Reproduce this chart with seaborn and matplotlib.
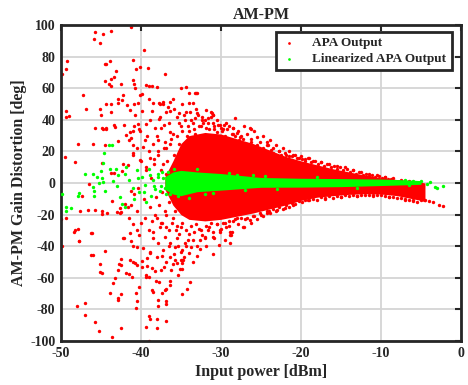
import numpy as np
import pandas as pd
import matplotlib
matplotlib.use("Agg")
import matplotlib.pyplot as plt
import seaborn as sns

# ---------------- data ----------------
# Sparse APA output points (input power dBm, AM-PM deg)
apa_x = [-45.75, -44.7, -43.7, -45.9, -45.1, -41.2, -39.6, -49.2, -49.3, -49.9, -44.5, -44.3, -43.9, -41.0,
         -43.1, -40.6, -40.1, -39.1, -37.0, -43.3, -43.75, -44.5, -44.0, -43.7, -42.5, -41.0, -40.9, -40.7,
         -39.4, -39.0, -38.6, -38.0, -35.0, -34.4, -47.2, -39.9, -40.1, -42.2, -42.8, -42.4, -39.0, -42.8,
         -44.3, -43.7, -41.7, -40.9, -46.9, -45.1, -49.3, -49.4, -49.0, -45.0, -43.7, -41.3, -40.7, -40.3,
         -39.9, -38.6, -37.6, -37.2, -43.3, -44.7, -44.4, -41.3, -40.9, -40.3, -39.3, -40.1, -37.7, -36.8,
         -36.3, -33.25, -33.0, -31.8, -31.1, -31.0, -28.5, -26.4, -34.0, -33.1, -38.5, -37.7, -37.2, -36.4,
         -34.0, -33.5, -31.0, -31.2, -29.6, -28.5, -26.3, -28.0, -27.6, -24.3, -24.1, -32.4,
         # lower-left sparse
         -48.3, -46.1, -47.7, -46.0, -44.5, -45.1, -45.1, -44.8, -42.5, -42.7, -42.5, -42.8, -41.3, -41.0,
         -40.75, -40.5, -39.9, -41.8, -41.5, -41.1, -43.2, -43.5, -43.9, -42.5, -42.8, -42.9, -48.0, -47.0,
         -47.0, -45.7, -45.2, -43.6, -42.5, -40.2, -40.6, -40.5, -40.6, -39.3, -39.0, -39.0, -38.8, -38.6,
         -38.5, -37.9, -37.9, -37.3, -37.0, -36.8, -36.9, -36.8, -38.0, -38.0, -36.9, -39.3, -39.0, -39.4,
         -38.1, -37.7, -36.4, -36.3, -39.2, -38.6, -38.25, -37.5, -37.1, -36.0, -35.75, -35.1, -34.9, -34.9,
         -39.9, -39.2, -38.9, -36.5, -35.4, -34.3, -41.0, -42.1, -35.0, -35.0, -34.8, -33.8, -34.2, -34.8,
         # left middle
         -47.8, -46.0, -44.5, -42.8, -49.5, -48.25, -44.8, -46.5, -47.3, -43.6, -46.6, -45.7, -44.9, -47.6,
         -44.8, -44.2, -49.3, -46.2, -48.2, -47.9, -42.6, -42.5, -42.0, -41.6, -41.2, -42.2, -41.6, -42.3,
         -43.7, -43.3, -41.25, -40.8, -41.0, -40.2, -50.0, -49.9, -47.75, -46.2, -41.4, -42.2, -40.5, -41.0,
         -40.5, -43.0, -42.6, -45.75, -44.9, -44.3, -43.25, -42.1, -41.8, -41.2, -41.0, -41.0, -40.1, -39.7,
         -39.3,
         # speckle around the dense core
         -38.0, -37.5, -37.0, -36.5, -36.0, -35.5, -35.0, -34.5, -34.0, -33.5, -33.0, -32.5, -32.0, -31.5,
         -31.0, -30.5, -30.0, -29.5, -29.0, -28.5, -38.5, -37.8, -36.8, -36.2, -35.2, -34.2, -33.2, -32.2,
         -31.2, -30.2, -39.0, -38.3, -37.2, -39.5, -40.5, -41.5, -41.0, -40.0, -39.3, -38.7, -40.3, -39.6,
         -38.8, -38.2, -37.5, -37.0, -36.5, -36.0, -35.5, -35.0, -34.5, -34.0, -33.5, -33.0, -32.5, -32.0,
         -31.5, -31.0, -30.5, -30.0, -29.5, -29.0, -28.5, -28.0, -27.0, -26.0, -25.0, -24.0, -23.0, -22.0,
         -21.0, -27.5, -26.5, -25.5, -24.5, -23.5, -22.5, -21.5, -20.5, -19.5, -18.5, -17.5, -16.5, -15.5,
         -14.5, -13.5, -12.5, -11.5, -10.5, -9.5, -8.5, -7.5, -6.5, -19.0, -17.0, -15.0, -13.0, -11.0,
         -9.0, -7.0, -6.0, -5.5,
         -38.0, -37.4, -36.8, -38.5, -37.0, -36.4, -35.75, -37.2, -34.9, -34.7, -38.0, -36.4, -35.5, -33.7,
         -32.6, -32.0, -31.0, -30.1, -28.9, -27.2, -26.4, -24.3, -28.8, -28.7,
         -41.5, -40.5, -40.0, -39.5, -39.0, -38.5, -40.2, -41.2, -39.7, -38.9, -37.8, -37.4, -36.9, -36.2,
         -35.8, -35.3, -34.6, -34.0, -33.5, -33.0, -32.6, -31.8, -31.0, -30.2, -29.5, -28.8,
         -35.8, -35.2, -34.6, -33.8, -33.2, -32.8, -32.2, -31.6, -30.8, -30.3, -29.8, -29.2, -28.2, -27.8,
         -27.2, -26.8, -26.2, -25.8, -25.2, -24.8, -23.8, -22.8, -22.0, -21.0, -20.0, -19.0, -37.6, -36.6,
         -37.1, -38.2, -38.8, -39.2, -34.9, -36.0,
         # upper edge of the dense core
         -35.5, -35.2, -34.8, -34.4, -34.1, -33.7, -33.4, -33.1, -32.7, -32.3, -31.9, -31.6, -31.2, -30.9,
         -30.5, -30.1, -29.7, -29.4, -29.0, -28.6, -28.3, -27.9, -27.5, -27.1, -26.7, -26.3, -25.9, -25.5,
         -25.1, -24.7, -24.3, -23.9, -23.5, -23.1, -22.7, -22.3, -21.9, -21.5, -21.1, -20.7, -20.3, -19.9,
         -19.5, -19.1, -18.7, -18.3, -17.9, -17.5, -17.1, -16.7, -16.3, -15.9, -15.5, -15.1, -14.7, -14.3,
         -13.9, -13.5, -13.1, -12.7, -12.3, -11.9, -11.5, -11.1, -10.7, -10.3, -9.9, -9.5, -9.1, -8.7,
         # lower edge of the dense core
         -35.5, -35.2, -34.8, -34.4, -34.1, -33.7, -33.4, -33.1, -32.7, -32.3, -31.9, -31.6, -31.2, -30.9,
         -30.5, -30.1, -29.7, -29.4, -29.0, -28.6, -28.3, -27.9, -27.5, -27.1, -26.7, -26.3, -25.9, -25.5,
         -25.1, -24.7, -24.3, -23.9, -23.5, -23.1, -22.7, -22.3, -21.9, -21.5, -21.1, -20.7, -20.3, -19.9,
         -19.5, -19.1, -18.5, -18.0, -17.5, -17.0, -16.5, -16.0, -15.5, -15.0, -14.5, -14.0, -13.5, -13.0,
         -12.5, -12.0, -11.5, -11.0, -10.5, -10.0, -9.5, -9.0, -8.5, -8.0, -7.5, -7.0, -6.5, -6.0,
         # fill-in at the left end of the core
         -38.4, -38.1, -37.9, -37.7, -37.5, -37.3, -37.1, -36.9, -36.7, -36.5, -36.3, -36.1, -35.9, -35.7,
         -35.5, -35.3, -37.8, -36.4, -35.6, -37.6, -38.6, -38.9, -36.8, -36.2,
         # right tail
         -4.0, -3.5, -2.8, -2.3, -4.5, -5.0]
apa_y = [95.8, 94.1, 96.0, 91.3, 88.8, 98.5, 84.0, 77.2, 72.4, 68.8, 75.5, 75.5, 77.2, 78.0,
         71.0, 72.0, 73.2, 72.6, 69.2, 67.0, 65.6, 64.8, 62.9, 61.2, 62.7, 65.0, 62.7, 60.1,
         61.8, 61.6, 61.4, 60.8, 59.9, 60.6, 55.7, 56.5, 55.9, 55.5, 53.2, 52.5, 53.4, 50.4,
         50.0, 50.0, 49.2, 50.0, 46.6, 46.6, 45.6, 41.8, 42.6, 42.8, 44.7, 46.0, 43.0, 50.6,
         45.4, 45.6, 50.2, 49.8, 36.7, 34.0, 34.0, 32.5, 35.9, 37.3, 37.3, 32.9, 40.3, 44.7,
         45.8, 57.2, 57.2, 46.2, 44.0, 43.0, 34.6, 34.6, 56.8, 57.0, 50.8, 50.4, 51.5, 51.5,
         50.8, 50.4, 43.0, 42.0, 36.5, 34.8, 34.0, 31.4, 29.3, 26.1, 24.1, 40.0,
         -30.8, -31.4, -36.7, -45.8, -42.8, -51.3, -56.3, -57.0, -48.3, -51.0, -51.7, -55.0, -49.0, -50.0,
         -50.4, -52.0, -53.4, -56.8, -57.8, -59.3, -60.3, -63.1, -69.8, -70.4, -73.0, -74.0, -77.8, -76.0,
         -83.3, -88.2, -93.7, -97.3, -91.6, -66.0, -69.4, -74.7, -79.1, -91.3, -99.8, -84.0, -86.0, -67.5,
         -68.8, -74.0, -78.0, -69.8, -67.5, -66.9, -74.7, -76.6, -85.9, -91.8, -87.6, -58.0, -59.3, -59.3,
         -61.8, -62.8, -61.8, -64.4, -52.5, -53.6, -55.5, -54.9, -53.2, -51.3, -48.7, -54.6, -48.7, -50.4,
         -49.4, -47.5, -43.9, -39.7, -39.7, -39.7, -39.9, -35.0, -43.5, -48.7, -54.4, -62.7, -66.9, -70.5,
         24.7, 24.7, 24.3, 26.8, 16.3, 13.5, 12.4, -0.4, -8.4, -11.2, -17.1, -17.1, -17.7, -17.5,
         -19.8, -19.0, -22.3, -31.4, -29.7, -28.9, -19.2, -18.2, -13.1, -15.4, -14.1, 12.0, 11.6, 7.6,
         6.5, 6.5, -4.9, -7.2, 33.0, 34.0, -23.0, -40.0, -36.5, -45.6, -31.8, -35.0, -40.3, -26.0,
         -30.0, -18.2, -16.0, 34.6, 34.6, 34.6, 35.6, 36.7, 30.4, 28.3, 24.0, 18.8, 14.6, 23.0,
         10.3,
         30.0, 35.0, 26.0, 38.0, 31.0, 42.0, 36.0, 40.0, 33.0, 38.0, 44.0, 36.0, 40.0, 34.0,
         38.0, 32.0, 35.0, 30.0, 28.0, 31.0, 25.0, 20.0, 22.0, 28.0, 25.0, 30.0, 31.0, 29.0,
         30.0, 28.0, 20.0, 15.0, 12.0, 27.0, 22.0, 27.0, 18.0, 14.0, 8.0, 3.0, -3.0, -10.0,
         -15.0, -20.0, -25.0, -18.0, -30.0, -22.0, -35.0, -28.0, -38.0, -32.0, -36.0, -40.0, -30.0, -34.0,
         -28.0, -31.0, -26.0, -29.0, -25.0, -27.0, -24.0, -22.0, -23.0, -21.0, -20.0, -18.0, -17.0, -16.0,
         -14.0, 25.0, 22.0, 24.0, 20.0, 19.0, 18.0, 17.0, 16.0, 15.0, 14.0, 13.0, 12.0, 11.0,
         10.0, 8.0, 7.0, 6.0, 5.0, 4.0, 3.0, 2.0, 1.0, -11.0, -10.0, -9.0, -8.0, -8.0,
         -9.0, -10.0, -11.0, -12.0,
         -22.4, -25.5, -27.6, -30.8, -34.0, -38.2, -40.3, -42.4, -42.4, -48.7, -46.6, -46.6, -50.8, -40.3,
         -36.1, -35.0, -34.0, -30.8, -32.9, -27.6, -23.4, -19.2, -30.8, -33.0,
         -22.0, -18.0, -25.0, -22.0, -30.0, -35.0, -33.0, -37.0, -41.0, -44.0, -38.0, -46.0, -50.0, -55.0,
         -45.0, -58.0, -47.0, -44.0, -50.0, -46.0, -42.0, -40.0, -45.0, -39.0, -36.0, -38.0,
         47.0, 44.0, 43.0, 45.0, 41.0, 43.0, 38.0, 41.0, 36.0, 37.0, 33.0, 34.0, 30.0, 27.0,
         28.0, 25.0, 26.0, 23.0, 21.0, 22.0, 21.0, 20.0, 19.0, 18.0, 17.0, 16.0, 42.0, 48.0,
         37.0, 35.0, 40.0, 30.0, 50.0, 53.0,
         30.0, 38.0, 33.0, 45.0, 36.0, 40.0, 34.0, 47.0, 36.0, 42.0, 35.0, 38.0, 45.0, 34.0,
         40.0, 37.0, 34.0, 38.0, 36.0, 31.0, 41.0, 33.0, 30.0, 36.0, 31.0, 28.0, 33.0, 29.0,
         26.0, 30.0, 24.0, 27.0, 22.0, 24.0, 20.0, 22.0, 18.0, 20.0, 17.0, 18.0, 16.0, 15.5,
         14.0, 16.0, 13.0, 14.0, 12.0, 13.5, 11.0, 12.0, 10.0, 11.0, 9.0, 10.0, 8.0, 9.0,
         7.0, 8.0, 6.0, 7.0, 5.0, 6.0, 4.5, 5.0, 3.8, 4.2, 3.0, 3.5, 2.8, 2.5,
         -27.0, -32.0, -25.0, -30.0, -36.0, -27.0, -31.0, -26.0, -29.0, -33.0, -27.0, -30.0, -25.0, -35.0,
         -26.0, -30.0, -25.0, -28.0, -24.0, -31.0, -23.0, -26.0, -22.0, -28.0, -22.0, -25.0, -21.0, -23.0,
         -19.0, -21.0, -18.0, -19.0, -16.5, -18.0, -15.5, -16.5, -14.0, -15.0, -12.5, -13.5, -11.5, -12.0,
         -10.5, -11.0, -10.0, -10.5, -9.0, -9.8, -8.5, -9.2, -8.0, -8.6, -7.6, -8.2, -7.5, -8.0,
         -7.4, -7.8, -7.3, -7.8, -7.5, -7.9, -8.2, -8.8, -9.0, -9.5, -9.8, -10.5, -11.0, -11.5,
         12.0, -9.0, 18.0, -14.0, 8.0, -6.0, 22.0, -20.0, 14.0, -12.0, 25.0, -25.0, 18.0, -18.0,
         12.0, -10.0, 27.0, 32.0, -30.0, -28.0, -24.0, 16.0, 6.0, -8.0,
         -11.4, -12.2, -13.9, -14.6, -11.0, -10.5]

# Dense APA core, envelope
core_x = [-37, -36, -35, -34, -32, -30, -28, -26, -24, -22, -20, -18, -16, -14, -12, -10, -8, -6, -5, -4.5]
core_hi = [4, 14, 25, 30, 32, 31, 28, 25, 21, 17, 14, 11.5, 9, 7, 5, 3.3, 2.2, 1.2, 0.5, 0]
core_lo = [-4, -14, -20, -23, -24, -23, -21, -19, -16.5, -14, -11, -9, -8, -7.2, -6.8, -7, -8, -10, -11, -12]

# Sparse linearized APA output points
lin_x = [-44.0, -43.6, -44.6, -44.7, -45.0, -47.0, -46.0, -43.9, -43.1, -42.9, -49.8, -47.7, -47.8,
         -49.3, -48.75, -49.4, -46.0, -45.8, -45.9, -45.2, -44.7, -44.5, -45.5, -44.9, -42.6, -42.4,
         -42.0, -42.0, -41.5, -41.0, -40.5, -40.2, -39.8, -39.5, -39.0, -38.7, -38.5, -38.2, -37.8,
         -37.5, -37.2, -36.9, -36.6, -36.3, -36.0, -35.8, -41.8, -43.0, -43.5, -40.8, -39.3,
         -37.9, -37.6, -37.3, -37.0, -36.7, -36.4, -36.1, -35.8, -35.5, -35.3, -38.3, -38.9, -39.6, -40.3,
         -33.0, -31.0, -29.0, -27.0, -32.0, -34.0, -28.0, -26.0, -23.0, -18.0, -13.0, -24.5,
         -5.0, -4.2, -3.9, -3.3, -3.0, -2.3, -6.0, -6.5, -7.0]
lin_y = [24.0, 24.0, 18.8, 12.4, 7.8, 5.9, 5.5, 8.7, 8.7, 5.0, -7.0, -6.1, -8.2,
         -15.4, -16.0, -17.5, -2.3, -5.1, -8.2, -0.2, 0.8, -5.1, 4.0, 3.0, -9.0, -13.0,
         -15.0, 6.0, 2.0, -3.0, 8.0, -6.0, 4.0, -1.0, 9.0, -8.0, 2.0, -4.0, 6.0,
         -2.0, 3.0, -7.0, 7.0, 0.0, -5.0, 9.0, 10.0, -2.0, 1.5, -10.0, -12.0,
         4.0, -5.0, 7.0, -3.0, 2.0, -7.0, 5.0, -4.0, 6.0, -8.0, -2.0, 5.0, -6.0, 3.0,
         9.0, -6.5, 6.5, -4.5, -7.0, -9.5, 5.0, 4.8, -4.0, 3.8, -3.0, 4.5,
         1.3, -0.4, 0.6, -2.3, -3.2, -1.9, 1.5, -1.0, 2.0]

# Dense linearized band envelope
band_x = [-37, -36, -35, -33, -30, -25, -20, -15, -10, -8, -6, -5]
band_hi = [4, 7, 8, 7, 6, 3.5, 3, 2.8, 2.5, 2.2, 1.8, 1.5]
band_lo = [-4, -7, -8, -5.5, -4.5, -2.7, -2.6, -2.3, -1.6, -1.3, -1, -0.8]

x_ticks = [-50, -40, -30, -20, -10, 0]
y_ticks = [-100, -80, -60, -40, -20, 0, 20, 40, 60, 80, 100]

# ---------------- plotting ----------------
sns.set_style("white")
plt.rcParams['font.family'] = ['Liberation Serif', 'DejaVu Serif']
plt.rcParams['font.weight'] = 'bold'

fig = plt.figure(figsize=(4.68, 3.85), dpi=100)
ax = fig.add_axes([0.130, 0.1143, 0.855, 0.8207])

red = '#ff0000'
green = '#00ff00'

df_apa = pd.DataFrame({'x': apa_x, 'y': apa_y})
df_lin = pd.DataFrame({'x': lin_x, 'y': lin_y})

ax.fill_between(core_x, core_lo, core_hi, color=red, lw=0, zorder=2)
sns.scatterplot(data=df_apa, x='x', y='y', color=red, s=6, linewidth=0,
                ax=ax, zorder=2, label='APA Output')
ax.fill_between(band_x, band_lo, band_hi, color=green, lw=0, zorder=3)
sns.scatterplot(data=df_lin, x='x', y='y', color=green, s=6, linewidth=0,
                ax=ax, zorder=3, label='Linearized APA Output')

ax.set_xlim(-50, 0)
ax.set_ylim(-100, 100)
ax.set_xticks(x_ticks)
ax.set_yticks(y_ticks)
ax.set_xticklabels([str(v) for v in x_ticks])
ax.set_yticklabels([str(v) for v in y_ticks])
ax.grid(True, color='#d4d4d4', linewidth=1.3)
ax.set_axisbelow(True)
for sp in ax.spines.values():
    sp.set_color('#262626')
    sp.set_linewidth(2)
ax.tick_params(direction='in', length=4, width=1.5, top=True, right=True,
               labelsize=10, pad=4, colors='#262626')
for lab in ax.get_xticklabels() + ax.get_yticklabels():
    lab.set_fontweight('bold')
    lab.set_color('#262626')

ax.set_xlabel('Input power [dBm]', fontsize=11.5, fontweight='bold', color='#262626', labelpad=3)
ax.set_ylabel('AM-PM Gain Distortion [deg]', fontsize=11.5, fontweight='bold', color='#262626', labelpad=2)
ax.set_title('AM-PM', fontsize=11.5, fontweight='bold', color='#262626', pad=4)

h, l = ax.get_legend_handles_labels()
leg = ax.legend(h, l, loc='upper right', bbox_to_anchor=(0.977, 0.978), frameon=True,
                fancybox=False, edgecolor='#262626', framealpha=1,
                prop={'family': 'Liberation Serif', 'weight': 'bold', 'size': 9.5},
                handlelength=1.2, handletextpad=1.2, borderpad=0.4, labelspacing=0.25,
                borderaxespad=0, markerscale=0.8)
leg.get_frame().set_linewidth(2)

fig.savefig('out.png', dpi=100)
